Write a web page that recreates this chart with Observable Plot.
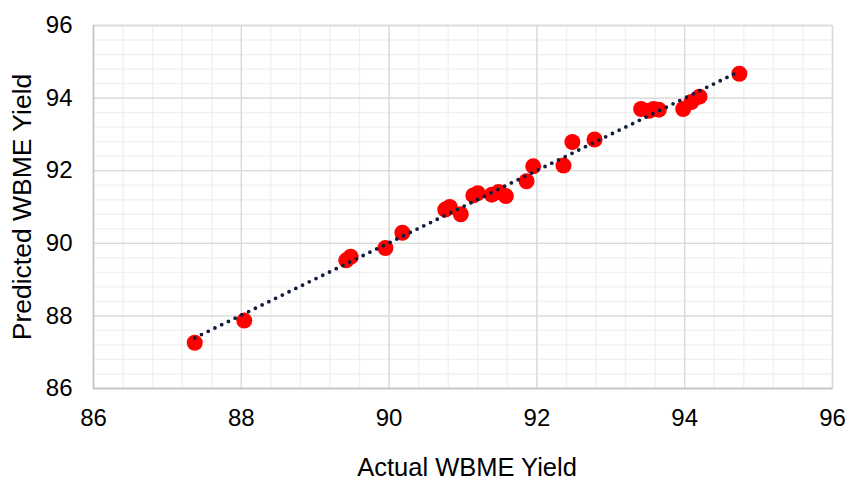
<!DOCTYPE html>
<html>
<head>
<meta charset="utf-8">
<script src="https://cdn.jsdelivr.net/npm/d3@7"></script>
<script src="https://cdn.jsdelivr.net/npm/@observablehq/plot@0.6"></script>
<style>
  html, body { margin: 0; padding: 0; background: #fff; }
  #chart { width: 850px; height: 480px; }
</style>
</head>
<body>
<div id="chart"></div>
<script>
const actual = [87.37, 88.04, 89.42, 89.48, 89.95, 90.18, 90.76, 90.82, 90.97, 91.14, 91.20, 91.39, 91.48, 91.58, 91.86, 91.95, 92.36, 92.48, 92.78, 93.41, 93.52, 93.58, 93.65, 93.98, 94.09, 94.20, 94.74];
const predicted = [87.26, 87.87, 89.53, 89.63, 89.87, 90.29, 90.93, 91.00, 90.80, 91.32, 91.38, 91.34, 91.41, 91.30, 91.71, 92.12, 92.14, 92.79, 92.86, 93.70, 93.65, 93.70, 93.68, 93.70, 93.89, 94.04, 94.67];
const majorTicks = [86, 88, 90, 92, 94, 96];
const minorTicks = d3.range(0, 26).map(i => +(86 + i * 0.4).toFixed(1));

const data = actual.map((a, i) => ({actual: a, predicted: predicted[i]}));

const font = "'Liberation Sans', Arial, sans-serif";

const chart = Plot.plot({
  width: 850,
  height: 480,
  marginLeft: 93,
  marginRight: 18,
  marginTop: 25,
  marginBottom: 92,
  style: {fontFamily: font, fontSize: "24px", color: "#000", background: "#fff"},
  x: {domain: [86, 96]},
  y: {domain: [86, 96]},
  marks: [
    Plot.gridX(minorTicks, {stroke: "#f0f0f0", strokeOpacity: 1, strokeWidth: 1.3}),
    Plot.gridY(minorTicks, {stroke: "#f0f0f0", strokeOpacity: 1, strokeWidth: 1.3}),
    Plot.gridX(majorTicks, {stroke: "#d9d9d9", strokeOpacity: 1, strokeWidth: 1.3}),
    Plot.gridY(majorTicks, {stroke: "#d9d9d9", strokeOpacity: 1, strokeWidth: 1.3}),
    Plot.frame({stroke: "#d9d9d9", strokeWidth: 1.3}),
    Plot.ruleX([86], {stroke: "#c4c4c4", strokeWidth: 1.5}),
    Plot.ruleY([86], {stroke: "#c4c4c4", strokeWidth: 1.5}),
    Plot.axisX(majorTicks, {tickSize: 0, tickPadding: 20, label: null, fill: "#000", fontSize: 24}),
    Plot.axisY(majorTicks, {tickSize: 0, tickPadding: 21, label: null, fill: "#000", fontSize: 24}),
    Plot.dot(data, {x: "actual", y: "predicted", r: 8, fill: "#ff0000", stroke: "none"}),
    Plot.linearRegressionY(data, {x: "actual", y: "predicted", ci: 0, stroke: "#101d3c", strokeWidth: 3.8, strokeDasharray: "0 7.5", strokeLinecap: "round"}),
    Plot.text(["Actual WBME Yield"], {frameAnchor: "bottom", dy: 87, lineAnchor: "bottom", fontSize: 25.5, fill: "#000", dx: 4}),
    Plot.text(["Predicted WBME Yield"], {frameAnchor: "left", dx: -71, rotate: -90, textAnchor: "middle", fontSize: 26.5, fill: "#000", lineAnchor: "middle"})
  ]
});
document.getElementById("chart").appendChild(chart);
</script>
</body>
</html>
